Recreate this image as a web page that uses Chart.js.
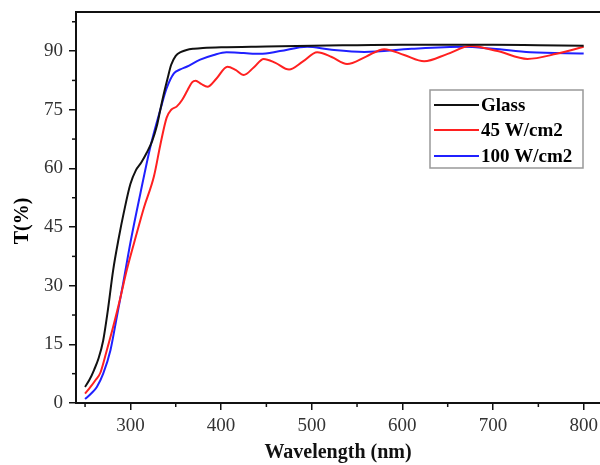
<!DOCTYPE html>
<html>
<head>
<meta charset="utf-8">
<script src="https://cdn.jsdelivr.net/npm/chart.js@4.4.0/dist/chart.umd.min.js"></script>
<style>
html, body { margin: 0; padding: 0; background: #fff; overflow: hidden; }
canvas { display: block; }
</style>
</head>
<body>
<canvas id="tChart" width="600" height="480"></canvas>
<script>
// transmittance spectra
const glassWl = [250, 255, 260, 265, 270, 275, 281, 287, 293, 300, 306, 312, 318, 324, 329, 333, 337, 341, 345, 350, 356, 362, 370, 380, 400, 450, 500, 550, 600, 650, 700, 750, 800];
const glassT = [4.1, 6, 8.5, 11.5, 16, 23.5, 34, 42, 49, 56, 59.5, 61.5, 64, 67, 70.7, 75, 79.2, 83, 86.5, 88.8, 89.8, 90.3, 90.6, 90.8, 91, 91.2, 91.4, 91.5, 91.6, 91.6, 91.6, 91.5, 91.4];

const w45Wl = [250, 256, 262, 267, 274, 281, 289, 296, 307, 315, 326, 333, 340, 345, 351, 357, 363, 368, 372, 378, 385, 395, 407, 416, 425, 436, 447, 460, 475, 490, 506, 522, 539, 560, 580, 602, 624, 650, 675, 705, 738, 770, 800];
const w45T = [2.4, 4.1, 6, 7.8, 13.5, 19.5, 27, 34, 43.4, 50, 58, 66, 73, 75, 75.8, 77.5, 80, 82, 82.4, 81.6, 80.9, 83, 86, 85.2, 83.9, 85.8, 88, 87, 85.3, 87.3, 89.7, 88.5, 86.7, 88.6, 90.5, 89, 87.4, 89.3, 91.3, 90, 88, 89.3, 91.1];

const w100Wl = [250, 257, 263, 270, 278, 285, 292, 300, 311, 322, 333, 340, 348, 355, 362, 377, 392, 406, 425, 443, 465, 495, 520, 558, 610, 667, 700, 741, 800];
const w100T = [1, 2.5, 4.1, 7.5, 13.5, 22, 30.6, 41, 53.6, 65.5, 75, 80.5, 84.3, 85.3, 86, 87.8, 89, 89.7, 89.5, 89.3, 90, 91.1, 90.4, 89.8, 90.6, 91.1, 90.6, 89.7, 89.4];

const seriesNames = ['Glass', '45 W/cm2', '100 W/cm2'];
const seriesColors = ['#111111', '#ff2020', '#2020ff'];

const xTicks = [300, 400, 500, 600, 700, 800];
const xMinor = [250, 350, 450, 550, 650, 750];
const yTicks = [0, 15, 30, 45, 60, 75, 90];
const yMinor = [7.5, 22.5, 37.5, 52.5, 67.5, 82.5, 97.5];

const serif = '"Liberation Serif", "Times New Roman", serif';

function toPoints(xs, ys) {
    return xs.map((x, i) => ({ x: x, y: ys[i] }));
}

// top frame line, minor ticks, legend box and y title
const extras = {
    id: 'extras',
    afterDraw(chart) {
        const ctx = chart.ctx;
        const area = chart.chartArea;
        const xs = chart.scales.x;
        const ys = chart.scales.y;
        ctx.save();
        ctx.strokeStyle = '#111';
        ctx.lineWidth = 2;
        ctx.beginPath();
        ctx.moveTo(area.left, area.top);
        ctx.lineTo(area.right, area.top);
        ctx.stroke();

        ctx.lineWidth = 1.5;
        xMinor.forEach(v => {
            const px = xs.getPixelForValue(v);
            ctx.beginPath();
            ctx.moveTo(px, area.bottom);
            ctx.lineTo(px, area.bottom + 4);
            ctx.stroke();
        });
        yMinor.forEach(v => {
            const py = ys.getPixelForValue(v);
            ctx.beginPath();
            ctx.moveTo(area.left, py);
            ctx.lineTo(area.left - 4, py);
            ctx.stroke();
        });

        // legend
        ctx.strokeStyle = '#999';
        ctx.lineWidth = 1.5;
        ctx.strokeRect(430, 90, 153, 78);
        ctx.font = 'bold 19px ' + serif;
        ctx.textBaseline = 'middle';
        ctx.fillStyle = '#000';
        const rowY = [105, 130, 156];
        seriesNames.forEach((name, i) => {
            ctx.strokeStyle = seriesColors[i];
            ctx.lineWidth = 2;
            ctx.beginPath();
            ctx.moveTo(434, rowY[i]);
            ctx.lineTo(479, rowY[i]);
            ctx.stroke();
            ctx.fillText(name, 481, rowY[i] + 1);
        });

        // y axis title
        ctx.translate(23, 221);
        ctx.rotate(-Math.PI / 2);
        ctx.textAlign = 'center';
        ctx.font = 'bold 20px ' + serif;
        ctx.fillText('T(%)', 0, 0);
        ctx.restore();
    }
};

const ctx = document.getElementById('tChart').getContext('2d');
new Chart(ctx, {
    type: 'line',
    data: {
        datasets: [
            { label: seriesNames[0], data: toPoints(glassWl, glassT) },
            { label: seriesNames[1], data: toPoints(w45Wl, w45T) },
            { label: seriesNames[2], data: toPoints(w100Wl, w100T) },
        ].map((d, i) => Object.assign(d, {
            borderColor: seriesColors[i],
            borderWidth: 2,
            pointRadius: 0,
            fill: false,
            cubicInterpolationMode: 'monotone',
        })),
    },
    options: {
        responsive: false,
        animation: false,
        devicePixelRatio: 1,
        layout: { padding: { top: 12, right: 0, left: 0, bottom: 0 } },
        plugins: {
            legend: { display: false },
            tooltip: { enabled: false },
        },
        scales: {
            x: {
                type: 'linear',
                min: 240,
                max: 818,
                afterBuildTicks: s => { s.ticks = xTicks.map(v => ({ value: v })); },
                afterFit: s => { s.height = 77; s.paddingLeft = 0; s.paddingRight = 0; },
                grid: { drawOnChartArea: false, drawTicks: true, tickLength: 7, color: '#111', lineWidth: 1.5 },
                border: { display: true, color: '#111', width: 2 },
                ticks: { font: { family: serif, size: 19 }, color: '#333', padding: 5, maxRotation: 0 },
                title: {
                    display: true,
                    text: 'Wavelength (nm)',
                    font: { family: serif, size: 20, weight: 'bold' },
                    color: '#111',
                    padding: { top: 0, bottom: 15 },
                },
            },
            y: {
                min: 0,
                max: 100,
                afterBuildTicks: s => { s.ticks = yTicks.map(v => ({ value: v })); },
                afterFit: s => { s.width = 76; s.paddingTop = 0; s.paddingBottom = 0; },
                grid: { drawOnChartArea: false, drawTicks: true, tickLength: 7, color: '#111', lineWidth: 1.5 },
                border: { display: true, color: '#111', width: 2 },
                ticks: { font: { family: serif, size: 19 }, color: '#333', padding: 6 },
            },
        },
    },
    plugins: [extras],
});
</script>
</body>
</html>
